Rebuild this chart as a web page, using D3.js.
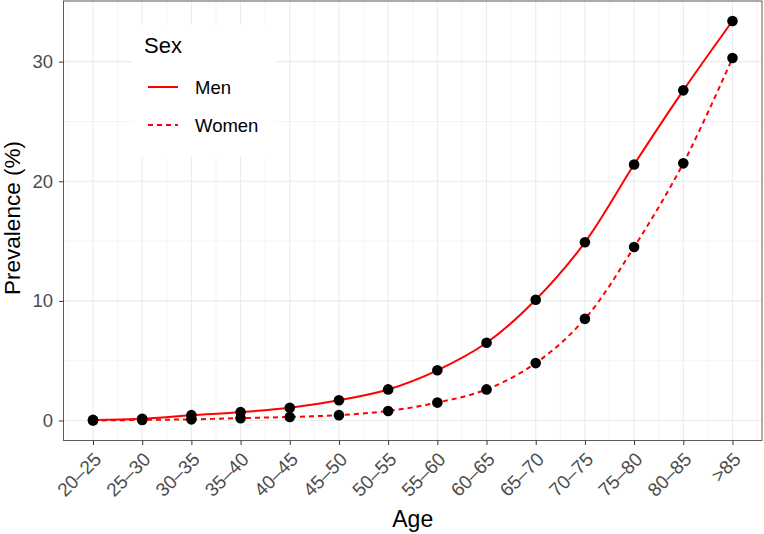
<!DOCTYPE html>
<html><head><meta charset="utf-8">
<script src="https://cdn.jsdelivr.net/npm/d3@7"></script>
<style>body{margin:0;background:#fff}svg{display:block;font-family:"Liberation Sans",Arial,Helvetica,sans-serif}</style>
</head><body><svg id="c" width="764" height="534"></svg>
<script>
const ages = ["20–25","25–30","30–35","35–40","40–45","45–50","50–55","55–60","60–65","65–70","70–75","75–80","80–85",">85"];
const men = [0.05,0.15,0.45,0.7,1.07,1.7,2.6,4.2,6.5,10.1,14.9,21.4,27.6,33.4];
const women = [0.0,0.05,0.1,0.2,0.3,0.45,0.8,1.5,2.6,4.8,8.5,14.5,21.5,30.3];
const yTicks = [0,10,20,30];
const yMinor = [5,15,25,35];
const seriesNames = ["Men","Women"];

const svg = d3.select("#c");
const L = 63.5, R = 762, T = 1, B = 440.5;
const n = ages.length;
const x = d3.scaleLinear().domain([-0.6, n - 1 + 0.6]).range([L, R]);
const y = d3.scaleLinear().domain([-1.67, 35.07]).range([B, T]);

const g = svg.append("g");
g.selectAll(".mx").data(d3.range(-0.5, n, 1)).join("line")
  .attr("x1", d => x(d)).attr("x2", d => x(d)).attr("y1", T).attr("y2", B)
  .attr("stroke", "#ebebeb").attr("stroke-width", 0.55);
g.selectAll(".my").data(yMinor).join("line")
  .attr("x1", L).attr("x2", R).attr("y1", d => y(d)).attr("y2", d => y(d))
  .attr("stroke", "#ebebeb").attr("stroke-width", 0.55);
g.selectAll(".Mx").data(d3.range(n)).join("line")
  .attr("x1", d => x(d)).attr("x2", d => x(d)).attr("y1", T).attr("y2", B)
  .attr("stroke", "#ebebeb").attr("stroke-width", 1.1);
g.selectAll(".My").data(yTicks).join("line")
  .attr("x1", L).attr("x2", R).attr("y1", d => y(d)).attr("y2", d => y(d))
  .attr("stroke", "#ebebeb").attr("stroke-width", 1.1);

svg.append("rect").attr("x", 132).attr("y", 25).attr("width", 143).attr("height", 132).attr("fill", "#fff");

const line = d3.line().x((d, i) => x(i)).y(d => y(d)).curve(d3.curveCatmullRom);
svg.append("path").attr("d", line(men)).attr("fill", "none").attr("stroke", "#ff0000").attr("stroke-width", 2);
svg.append("path").attr("d", line(women)).attr("fill", "none").attr("stroke", "#ff0000").attr("stroke-width", 2).attr("stroke-dasharray", "5,4");

[men, women].forEach(s => {
  svg.append("g").selectAll("circle").data(s).join("circle")
    .attr("cx", (d, i) => x(i)).attr("cy", d => y(d)).attr("r", 5.3).attr("fill", "#000");
});

svg.append("rect").attr("x", L).attr("y", T).attr("width", R - L).attr("height", B - T)
  .attr("fill", "none").attr("stroke", "#333").attr("stroke-width", 0.8);

const ya = svg.append("g").attr("transform", `translate(${L},0)`)
  .call(d3.axisLeft(y).tickValues(yTicks).tickSize(4.5).tickPadding(6));
ya.select(".domain").remove();
ya.selectAll("line").attr("stroke", "#333").attr("stroke-width", 1);
ya.selectAll("text").attr("fill", "#4d4d4d").attr("font-size", 18.5).attr("font-family", "Liberation Sans,Arial,sans-serif");

const xa = svg.append("g").attr("transform", `translate(0,${B})`)
  .call(d3.axisBottom(x).tickValues(d3.range(n)).tickFormat(i => ages[i]).tickSize(4.5));
xa.select(".domain").remove();
xa.selectAll("line").attr("stroke", "#333").attr("stroke-width", 1);
xa.selectAll("text").attr("fill", "#4d4d4d").attr("font-size", 19).attr("font-family", "Liberation Sans,Arial,sans-serif")
  .attr("text-anchor", "end").attr("y", null).attr("dy", null)
  .attr("transform", "translate(9,20) rotate(-45)");

svg.append("text").attr("x", (L + R) / 2).attr("y", 527).attr("text-anchor", "middle")
  .attr("font-size", 23).attr("fill", "#000").text("Age");
svg.append("text").attr("transform", `translate(19.5,218) rotate(-90)`).attr("text-anchor", "middle")
  .attr("font-size", 22.5).attr("fill", "#000").text("Prevalence (%)");

svg.append("text").attr("x", 144).attr("y", 53).attr("font-size", 22).attr("fill", "#000").text("Sex");
seriesNames.forEach((nm, i) => {
  const ly = 87 + i * 38;
  svg.append("line").attr("x1", 148).attr("x2", 178).attr("y1", ly).attr("y2", ly)
    .attr("stroke", "#ff0000").attr("stroke-width", 2).attr("stroke-dasharray", i ? "5,4" : null);
  svg.append("text").attr("x", 195).attr("y", ly + 7).attr("font-size", 18.5).attr("fill", "#000").text(nm);
});
</script></body></html>
